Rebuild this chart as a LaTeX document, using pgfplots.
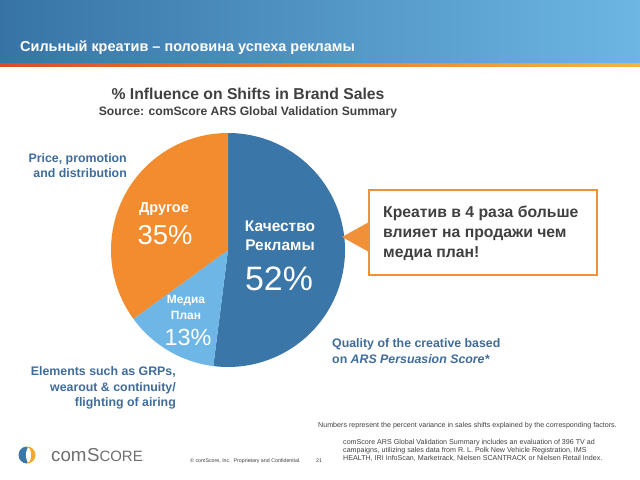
\documentclass[border=0pt]{standalone}
\usepackage{pgfplots}
\pgfplotsset{compat=1.18}
\usepackage{pgfplotstable}
\usepackage{fontspec}
\setmainfont{Liberation Sans}
\definecolor{hdrL}{HTML}{3774A5}
\definecolor{hdrM}{HTML}{2F6B9B}
\definecolor{hdrR}{HTML}{6CB6E3}
\definecolor{lineL}{HTML}{D65028}
\definecolor{lineR}{HTML}{F0B446}
\definecolor{pieblue}{HTML}{3A76A7}
\definecolor{pielight}{HTML}{6DB6E6}
\definecolor{pieorange}{HTML}{F28C2E}
\definecolor{lblblue}{HTML}{3F6C9B}
\definecolor{txtgray}{HTML}{404040}
\definecolor{boxorange}{HTML}{F0913A}
\definecolor{logoorange}{HTML}{F5A828}
\definecolor{logogray}{HTML}{6E6E6E}
\pgfplotstableread{
label value
Quality 52
Media 13
Other 35
}\piedata
\begin{document}
\begin{tikzpicture}[x=1bp,y=1bp]
\path[use as bounding box] (0,0) rectangle (640,-480);
\fill[white] (0,0) rectangle (640,-480);
% header
\shade[left color=hdrL, middle color=hdrM, right color=hdrR] (0,0) rectangle (640,-64);
\shade[left color=lineL, right color=lineR] (0,-64) rectangle (640,-66.5);
\node[anchor=base west, inner sep=0, text=white, font=\bfseries\fontsize{14.5}{17}\selectfont] at (20,-52) {Сильный креатив – половина успеха рекламы};
% chart titles
\node[anchor=base, inner sep=0, text=txtgray, font=\bfseries\fontsize{15.8}{18}\selectfont] at (248,-100) {\% Influence on Shifts in Brand Sales};
\node[anchor=base, inner sep=0, text=txtgray, font=\bfseries\fontsize{12.2}{14}\selectfont] at (248,-116) {Source: comScore ARS Global Validation Summary};
% pie angles
\pgfplotstablegetelem{0}{value}\of\piedata \let\vA\pgfplotsretval
\pgfplotstablegetelem{1}{value}\of\piedata \let\vB\pgfplotsretval
\pgfplotstablegetelem{2}{value}\of\piedata \let\vC\pgfplotsretval
\pgfmathsetmacro\aA{90}
\pgfmathsetmacro\aB{\aA-3.6*\vA}
\pgfmathsetmacro\aC{\aB-3.6*\vB}
\pgfmathsetmacro\aD{\aC-3.6*\vC}
\begin{axis}[at={(228bp,-250bp)}, anchor=origin, x=117bp, y=117bp, xmin=-1, xmax=1, ymin=-1, ymax=1, hide axis, clip=false]
\fill[pieblue] (axis cs:0,0) -- (axis cs:{cos(\aA)},{sin(\aA)}) arc[start angle=\aA, end angle=\aB, radius=117bp] -- cycle;
\fill[pielight] (axis cs:0,0) -- (axis cs:{cos(\aB)},{sin(\aB)}) arc[start angle=\aB, end angle=\aC, radius=117bp] -- cycle;
\fill[pieorange] (axis cs:0,0) -- (axis cs:{cos(\aC)},{sin(\aC)}) arc[start angle=\aC, end angle=\aD, radius=117bp] -- cycle;
\end{axis}
% pie labels
\node[anchor=base, inner sep=0, text=white, font=\bfseries\fontsize{14.5}{16}\selectfont] at (164,-213) {Другое};
\node[anchor=base, inner sep=0, text=white, font=\fontsize{27.5}{29}\selectfont] at (165,-245) {35\%};
\node[anchor=base, inner sep=0, text=white, font=\bfseries\fontsize{15.5}{17}\selectfont] at (280,-232) {Качество};
\node[anchor=base, inner sep=0, text=white, font=\bfseries\fontsize{15.5}{17}\selectfont] at (280,-251) {Рекламы};
\node[anchor=base, inner sep=0, text=white, font=\fontsize{34}{36}\selectfont] at (279,-290) {52\%};
\node[anchor=base, inner sep=0, text=white, font=\bfseries\fontsize{12}{13}\selectfont] at (186,-303) {Медиа};
\node[anchor=base, inner sep=0, text=white, font=\bfseries\fontsize{12}{13}\selectfont] at (186,-319) {План};
\node[anchor=base, inner sep=0, text=white, font=\fontsize{23.5}{25}\selectfont] at (188,-345) {13\%};
% outside labels
\begin{scope}[every node/.style={inner sep=0, text=lblblue, font=\bfseries\fontsize{12.4}{14}\selectfont}]
\node[anchor=base east] at (127,-163) {Price, promotion};
\node[anchor=base east] at (127,-178) {and distribution};
\node[anchor=base east] at (176,-375) {Elements such as GRPs,};
\node[anchor=base east] at (176,-391) {wearout \& continuity/};
\node[anchor=base east] at (176,-406) {flighting of airing};
\node[anchor=base west] at (332,-347) {Quality of the creative based};
\node[anchor=base west] at (332,-363) {on \textit{ARS Persuasion Score*}};
\end{scope}
% callout
\fill[boxorange] (342,-237) -- (369,-222) -- (369,-252) -- cycle;
\draw[boxorange, line width=1.8bp, fill=white] (369,-190) rectangle (597,-275);
\begin{scope}[every node/.style={anchor=base west, inner sep=0, text=txtgray, font=\bfseries\fontsize{15.8}{17}\selectfont}]
\node at (383,-218) {Креатив в 4 раза больше};
\node at (383,-238) {влияет на продажи чем};
\node at (383,-257) {медиа план!};
\end{scope}
% footnotes
\begin{scope}[every node/.style={anchor=base west, inner sep=0, text=txtgray, font=\fontsize{7.15}{8}\selectfont}]
\node at (318,-427) {Numbers represent the percent variance in sales shifts explained by the corresponding factors.};
\node at (343,-444) {comScore ARS Global Validation Summary includes an evaluation of 396 TV ad};
\node at (343,-452) {campaigns, utilizing sales data from R. L. Polk New Vehicle Registration, IMS};
\node at (343,-460) {HEALTH, IRI InfoScan, Marketrack, Nielsen SCANTRACK or Nielsen Retail Index.};
\node[font=\fontsize{5.3}{6}\selectfont] at (190,-462) {© comScore, Inc.\ \ Proprietary and Confidential.};
\node[font=\fontsize{5.3}{6}\selectfont] at (316,-462) {21};
\end{scope}
% logo
\fill[pieblue] (27,-455) ++(90:8.5) arc[start angle=90, end angle=270, radius=8.5] -- cycle;
\fill[logoorange] (27,-455) ++(-90:8.5) arc[start angle=-90, end angle=90, radius=8.5] -- cycle;
\fill[white] (28.5,-455) ellipse[x radius=2.5, y radius=7];
\node[anchor=base west, inner sep=0, text=logogray, font=\fontsize{18.8}{20}\selectfont] at (51,-461) {com\kern0.5pt S{\fontsize{15}{16}\selectfont CORE}{\fontsize{5}{6}\selectfont .}};
\end{tikzpicture}
\end{document}
